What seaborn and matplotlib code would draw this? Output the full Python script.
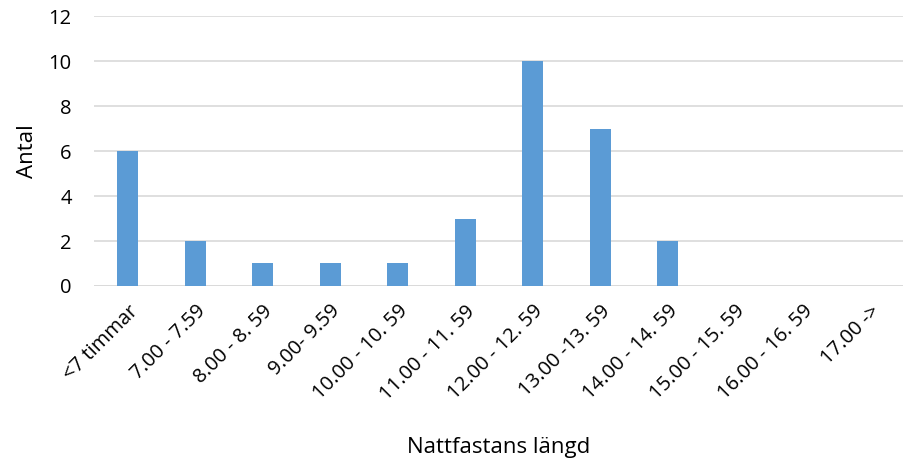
import matplotlib
matplotlib.use("Agg")
import matplotlib.pyplot as plt
import seaborn as sns
import pandas as pd

categories = ["<7 timmar", "7.00 - 7.59", "8.00 - 8. 59", "9.00- 9.59", "10.00 - 10. 59",
              "11.00 - 11. 59", "12.00 - 12. 59", "13.00 -13. 59", "14.00 - 14. 59",
              "15.00 - 15. 59", "16.00 - 16. 59", "17.00 ->"]
counts = [6, 2, 1, 1, 1, 3, 10, 7, 2, 0, 0, 0]
y_ticks = [0, 2, 4, 6, 8, 10, 12]

df = pd.DataFrame({"kategori": categories, "antal": counts})

sns.set_theme(style="white")
plt.rcParams["font.family"] = ["Open Sans", "DejaVu Sans"]
plt.rcParams["text.color"] = "black"
plt.rcParams["xtick.color"] = "black"
plt.rcParams["ytick.color"] = "black"
plt.rcParams["axes.labelcolor"] = "black"

fig = plt.figure(figsize=(9.04, 4.62), dpi=100)
ax = fig.add_axes([0.104, 0.381, 0.896, 0.584])

sns.barplot(data=df, x="kategori", y="antal", color="#5B9BD5", width=0.31,
            saturation=1, linewidth=0, ax=ax, zorder=3)

ax.set_ylim(0, 12)
ax.set_xlim(-0.5, len(categories) - 0.5)
ax.set_yticks(y_ticks)
ax.set_yticklabels([str(t) for t in y_ticks], fontsize=14.5)
ax.yaxis.grid(True, color="#D9D9D9", linewidth=1.2, zorder=0)
ax.set_axisbelow(True)
for s in ax.spines.values():
    s.set_visible(False)
ax.axhline(0, color="#D9D9D9", linewidth=1.2, zorder=1)
ax.tick_params(axis="y", length=0, pad=16)
ax.tick_params(axis="x", length=0, pad=11)

ax.set_xticks(range(len(categories)))
ax.set_xticklabels(categories, rotation=45, ha="right", rotation_mode="anchor",
                   fontsize=14.5)

ax.set_xlabel("Nattfastans längd", fontsize=16, labelpad=24)
ax.set_ylabel("Antal", fontsize=16, labelpad=8)

fig.savefig("out.png", dpi=100)
